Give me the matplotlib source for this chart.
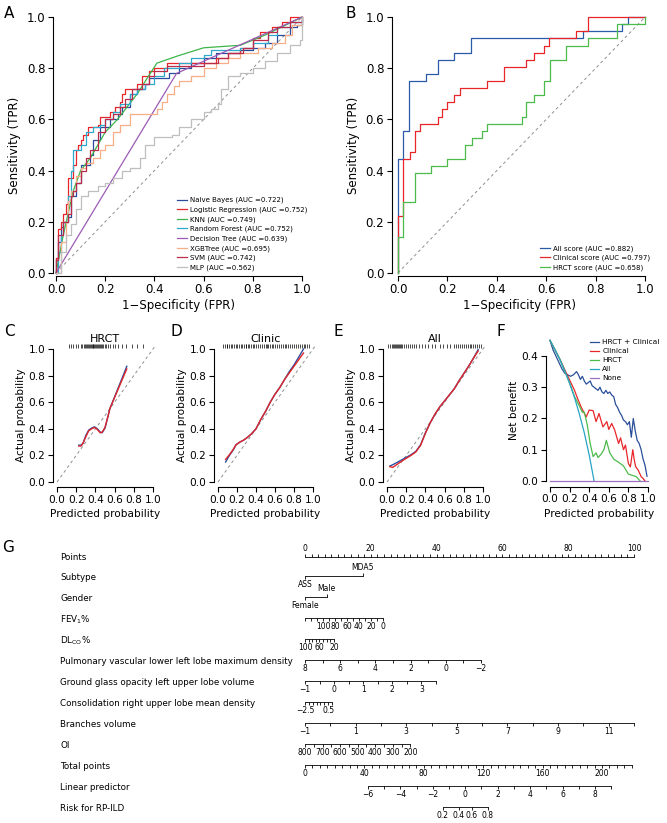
import matplotlib
matplotlib.use('Agg')
import matplotlib.pyplot as plt
import matplotlib.transforms as mtransforms
import numpy as np

plt.rcParams['font.family'] = ['DejaVu Sans']
plt.rcParams['axes.linewidth'] = 0.8

W, H = 667, 823

# ---------------- A: ROC of the machine learning models
model_names = ['Naive Bayes', 'Logistic Regression', 'KNN', 'Random Forest',
               'Decision Tree', 'XGBTree', 'SVM', 'MLP']
model_auc = [0.722, 0.752, 0.749, 0.752, 0.639, 0.695, 0.742, 0.562]

nb_fpr = [0, 0, 0.01, 0.02, 0.03, 0.05, 0.06, 0.08, 0.1, 0.14, 0.15, 0.18, 0.22, 0.25, 0.27, 0.3,
          0.33, 0.36, 0.38, 0.43, 0.46, 0.5, 0.55, 0.6, 0.65, 0.7, 0.75, 0.8, 0.85, 0.9, 0.95, 0.98, 1.0]
nb_tpr = [0, 0.06, 0.12, 0.18, 0.2, 0.22, 0.3, 0.35, 0.42, 0.46, 0.52, 0.57, 0.6, 0.62, 0.65, 0.7,
          0.72, 0.74, 0.76, 0.76, 0.78, 0.8, 0.82, 0.84, 0.86, 0.86, 0.87, 0.88, 0.9, 0.93, 0.96, 0.97, 1.0]
lr_fpr = [0, 0, 0.01, 0.02, 0.03, 0.04, 0.05, 0.07, 0.08, 0.09, 0.1, 0.11, 0.13, 0.17, 0.18, 0.22, 0.24,
          0.26, 0.27, 0.28, 0.33, 0.35, 0.38, 0.4, 0.45, 0.55, 0.65, 0.7, 0.75, 0.8, 0.83, 0.88, 0.92, 0.95, 1.0]
lr_tpr = [0, 0.06, 0.17, 0.2, 0.23, 0.27, 0.37, 0.42, 0.48, 0.5, 0.52, 0.54, 0.57, 0.58, 0.61, 0.63, 0.65,
          0.67, 0.7, 0.72, 0.74, 0.77, 0.79, 0.8, 0.82, 0.82, 0.84, 0.86, 0.88, 0.92, 0.94, 0.96, 0.98, 1.0, 1.0]
knn_fpr = [0, 0.03, 0.07, 0.1, 0.14, 0.2, 0.25, 0.33, 0.41, 0.5, 0.6, 0.75, 0.85, 1.0]
knn_tpr = [0, 0.15, 0.32, 0.4, 0.45, 0.55, 0.6, 0.7, 0.82, 0.85, 0.88, 0.89, 0.93, 1.0]
rf_fpr = [0, 0.01, 0.02, 0.03, 0.05, 0.06, 0.07, 0.1, 0.12, 0.15, 0.18, 0.2, 0.23, 0.26, 0.3, 0.33,
          0.36, 0.4, 0.44, 0.5, 0.55, 0.6, 0.63, 0.66, 0.7, 0.75, 0.8, 0.86, 0.9, 0.95, 1.0]
rf_tpr = [0, 0.08, 0.15, 0.2, 0.3, 0.4, 0.48, 0.5, 0.55, 0.57, 0.58, 0.6, 0.63, 0.66, 0.7, 0.72,
          0.74, 0.77, 0.8, 0.82, 0.84, 0.85, 0.87, 0.87, 0.87, 0.88, 0.9, 0.93, 0.96, 0.98, 0.99]
dt_fpr = [0, 0.49, 1.0]
dt_tpr = [0, 0.78, 1.0]
xgb_fpr = [0, 0.02, 0.04, 0.05, 0.06, 0.08, 0.1, 0.12, 0.15, 0.18, 0.2, 0.23, 0.26, 0.3, 0.41, 0.43,
           0.45, 0.48, 0.5, 0.55, 0.6, 0.65, 0.7, 0.75, 0.82, 0.88, 0.93, 0.96, 1.0]
xgb_tpr = [0, 0.12, 0.2, 0.28, 0.32, 0.38, 0.41, 0.43, 0.45, 0.48, 0.5, 0.55, 0.58, 0.62, 0.64, 0.67,
           0.7, 0.73, 0.75, 0.77, 0.8, 0.82, 0.84, 0.86, 0.88, 0.9, 0.93, 0.97, 1.0]
svm_fpr = [0, 0, 0.01, 0.03, 0.05, 0.06, 0.07, 0.08, 0.1, 0.12, 0.14, 0.17, 0.2, 0.23, 0.26, 0.28,
           0.31, 0.35, 0.38, 0.4, 0.45, 0.5, 0.6, 0.66, 0.7, 0.76, 0.8, 0.86, 0.9, 0.95, 1.0]
svm_tpr = [0, 0.05, 0.15, 0.2, 0.23, 0.3, 0.32, 0.35, 0.4, 0.45, 0.48, 0.55, 0.6, 0.62, 0.65, 0.68,
           0.72, 0.74, 0.77, 0.79, 0.81, 0.81, 0.82, 0.84, 0.86, 0.88, 0.91, 0.94, 0.96, 0.98, 1.0]
mlp_fpr = [0, 0.02, 0.04, 0.06, 0.08, 0.1, 0.13, 0.17, 0.2, 0.23, 0.27, 0.3, 0.34, 0.36, 0.4, 0.47,
           0.5, 0.55, 0.6, 0.63, 0.66, 0.67, 0.7, 0.75, 0.8, 0.85, 0.9, 0.95, 0.99, 1.0]
mlp_tpr = [0, 0.08, 0.15, 0.19, 0.25, 0.3, 0.32, 0.34, 0.35, 0.37, 0.4, 0.41, 0.45, 0.5, 0.53, 0.54,
           0.57, 0.6, 0.63, 0.64, 0.66, 0.72, 0.77, 0.78, 0.8, 0.83, 0.86, 0.89, 0.91, 1.0]

# ---------------- B: ROC of the scores
score_names = ['All score', 'Clinical score', 'HRCT score']
score_auc = [0.882, 0.797, 0.658]
all_fpr = [0, 0, 0.022, 0.045, 0.113, 0.16, 0.227, 0.297, 0.75, 0.905, 0.93, 1.0]
all_tpr = [0, 0.444, 0.556, 0.75, 0.778, 0.833, 0.861, 0.917, 0.944, 0.972, 1.0, 1.0]
cli_fpr = [0, 0, 0.022, 0.05, 0.07, 0.09, 0.16, 0.18, 0.2, 0.225, 0.25, 0.36, 0.43, 0.52, 0.55,
           0.59, 0.61, 0.72, 0.77, 1.0]
cli_tpr = [0, 0.222, 0.444, 0.472, 0.556, 0.583, 0.611, 0.639, 0.667, 0.694, 0.722, 0.75, 0.806,
           0.833, 0.861, 0.889, 0.917, 0.944, 1.0, 1.0]
hrct_fpr = [0, 0, 0.022, 0.068, 0.135, 0.2, 0.27, 0.3, 0.34, 0.36, 0.5, 0.52, 0.55, 0.59, 0.615,
            0.68, 0.77, 0.885, 1.0]
hrct_tpr = [0, 0.139, 0.278, 0.389, 0.417, 0.444, 0.5, 0.528, 0.556, 0.583, 0.611, 0.667, 0.694,
            0.75, 0.833, 0.889, 0.917, 0.972, 1.0]

# ---------------- C-E: calibration
cal_titles = ['HRCT', 'Clinic', 'All']
hrct_pred = [0.227, 0.25, 0.27, 0.3, 0.33, 0.36, 0.39, 0.42, 0.45, 0.47, 0.5, 0.53, 0.55, 0.6, 0.65, 0.7, 0.727]
hrct_apparent = [0.277, 0.277, 0.29, 0.35, 0.39, 0.405, 0.415, 0.4, 0.375, 0.37, 0.405, 0.49, 0.55, 0.64, 0.73, 0.82, 0.87]
hrct_corrected = [0.27, 0.27, 0.29, 0.34, 0.385, 0.4, 0.41, 0.395, 0.37, 0.375, 0.41, 0.49, 0.55, 0.635, 0.72, 0.805, 0.85]
clinic_pred = [0.08, 0.12, 0.16, 0.19, 0.23, 0.27, 0.3, 0.35, 0.4, 0.45, 0.5, 0.55, 0.6, 0.65, 0.7, 0.75, 0.8, 0.85, 0.9]
clinic_apparent = [0.15, 0.2, 0.24, 0.28, 0.3, 0.315, 0.33, 0.36, 0.4, 0.47, 0.53, 0.6, 0.66, 0.71, 0.77, 0.83, 0.88, 0.94, 1.0]
clinic_corrected = [0.17, 0.205, 0.245, 0.28, 0.3, 0.315, 0.33, 0.36, 0.4, 0.47, 0.53, 0.6, 0.66, 0.71, 0.77, 0.82, 0.87, 0.92, 0.97]
all_pred = [0.03, 0.06, 0.1, 0.15, 0.2, 0.25, 0.3, 0.35, 0.4, 0.45, 0.5, 0.55, 0.6, 0.65, 0.7, 0.75, 0.8, 0.85, 0.9, 0.95]
all_apparent = [0.12, 0.13, 0.145, 0.165, 0.185, 0.205, 0.23, 0.28, 0.37, 0.445, 0.51, 0.565, 0.61, 0.655, 0.7, 0.76, 0.815, 0.87, 0.93, 0.995]
all_corrected = [0.115, 0.11, 0.13, 0.155, 0.178, 0.2, 0.226, 0.276, 0.366, 0.445, 0.51, 0.565, 0.61, 0.655, 0.7, 0.76, 0.815, 0.87, 0.93, 0.985]
rug_hrct = [0.12, 0.15, 0.17, 0.2, 0.22, 0.25, 0.26, 0.28, 0.29, 0.3, 0.31, 0.32, 0.33, 0.34, 0.35, 0.36,
            0.37, 0.38, 0.39, 0.4, 0.41, 0.42, 0.43, 0.44, 0.45, 0.46, 0.47, 0.48, 0.5, 0.51, 0.53, 0.55,
            0.58, 0.6, 0.64, 0.68, 0.72, 0.78, 0.83, 0.9]
rug_clinic = [0.05, 0.07, 0.09, 0.1, 0.12, 0.14, 0.15, 0.17, 0.19, 0.2, 0.22, 0.24, 0.25, 0.27, 0.29, 0.3,
              0.32, 0.33, 0.35, 0.37, 0.38, 0.4, 0.42, 0.44, 0.46, 0.48, 0.5, 0.52, 0.53, 0.55, 0.57, 0.58,
              0.6, 0.62, 0.64, 0.66, 0.68, 0.7, 0.72, 0.74, 0.76, 0.78, 0.8, 0.82, 0.84, 0.86, 0.88, 0.9,
              0.92, 0.94, 0.96]
rug_all = [0.01, 0.03, 0.05, 0.06, 0.07, 0.08, 0.09, 0.1, 0.11, 0.12, 0.13, 0.15, 0.16, 0.18, 0.2, 0.22,
           0.24, 0.26, 0.28, 0.3, 0.33, 0.36, 0.4, 0.43, 0.47, 0.5, 0.55, 0.58, 0.62, 0.66, 0.7, 0.72,
           0.74, 0.76, 0.78, 0.8, 0.82, 0.84, 0.86, 0.88, 0.9, 0.92, 0.94, 0.96, 0.98]

# ---------------- F: decision curve
dca_names = ['HRCT + Clinical', 'Clinical', 'HRCT', 'All', 'None']
comb_thr = [0, 0.03, 0.06, 0.09, 0.12, 0.15, 0.18, 0.21, 0.24, 0.27, 0.29, 0.31, 0.33, 0.35, 0.37, 0.39,
            0.41, 0.43, 0.45, 0.47, 0.49, 0.51, 0.53, 0.55, 0.57, 0.59, 0.61, 0.63, 0.65, 0.67, 0.69, 0.71,
            0.73, 0.75, 0.77, 0.79, 0.81, 0.83, 0.85, 0.87, 0.89, 0.91, 0.93, 0.95, 0.97, 0.99]
comb_nb = [0.45, 0.42, 0.4, 0.38, 0.36, 0.345, 0.34, 0.335, 0.34, 0.35, 0.34, 0.325, 0.335, 0.32, 0.31, 0.315,
           0.32, 0.305, 0.3, 0.295, 0.29, 0.3, 0.285, 0.28, 0.29, 0.28, 0.285, 0.275, 0.27, 0.245, 0.235, 0.22,
           0.21, 0.195, 0.19, 0.18, 0.19, 0.14, 0.2, 0.16, 0.13, 0.12, 0.1, 0.07, 0.05, 0.015]
clin_thr = [0, 0.05, 0.1, 0.13, 0.16, 0.19, 0.22, 0.25, 0.28, 0.3, 0.32, 0.345, 0.37, 0.4, 0.44, 0.47,
            0.5, 0.54, 0.58, 0.6, 0.63, 0.66, 0.7, 0.72, 0.75, 0.77, 0.8, 0.82, 0.845, 0.86, 0.875, 0.9,
            0.93, 0.95, 0.97]
clin_nb = [0.45, 0.42, 0.39, 0.37, 0.35, 0.33, 0.31, 0.29, 0.265, 0.25, 0.235, 0.22, 0.205, 0.227, 0.225, 0.19,
           0.216, 0.173, 0.19, 0.165, 0.184, 0.163, 0.12, 0.138, 0.1, 0.115, 0.056, 0.045, 0.1, 0.067, 0.045, 0.035,
           0.014, 0.008, 0.0]
hr_thr = [0, 0.1, 0.2, 0.25, 0.3, 0.33, 0.35, 0.38, 0.41, 0.44, 0.47, 0.49, 0.52, 0.55, 0.575, 0.61,
          0.65, 0.7, 0.75, 0.8, 0.84, 0.88, 0.92]
hr_nb = [0.45, 0.39, 0.313, 0.27, 0.24, 0.22, 0.22, 0.18, 0.12, 0.078, 0.09, 0.075, 0.085, 0.1, 0.13, 0.09,
         0.07, 0.06, 0.048, 0.022, 0.018, 0.014, 0.0]
treatall_thr = [0, 0.05, 0.1, 0.15, 0.2, 0.25, 0.3, 0.35, 0.4, 0.45]
treatall_nb = [0.45, 0.421, 0.389, 0.353, 0.313, 0.267, 0.214, 0.154, 0.083, 0.0]
none_thr = [0, 1.0]
none_nb = [0, 0]

# ---------------- G: nomogram
nomo_rows = ['Points', 'Subtype', 'Gender', 'FEV$_1$%', 'DL$_{\\mathregular{CO}}$%',
             'Pulmonary vascular lower left lobe maximum density',
             'Ground glass opacity left upper lobe volume',
             'Consolidation right upper lobe mean density', 'Branches volume', 'OI',
             'Total points', 'Linear predictor', 'Risk for RP-ILD']
points_ticks = list(range(0, 101, 2))
points_labels = [0, 20, 40, 60, 80, 100]
subtype_cats = ['ASS', 'MDA5']
subtype_points = [0, 17.6]
gender_cats = ['Female', 'Male']
gender_points = [0, 6.6]
fev_ticks = list(range(130, -1, -10))
fev_labels = [100, 80, 60, 40, 20, 0]
fev_points = [0, 23.7]
dlco_ticks = list(range(100, 19, -10))
dlco_labels = [100, 60, 20]
dlco_points = [0, 8.8]
pvd_ticks = list(range(8, -3, -1))
pvd_labels = [8, 6, 4, 2, 0, -2]
pvd_points = [0, 53.5]
ggo_ticks = [-1, -0.5, 0, 0.5, 1, 1.5, 2, 2.5, 3, 3.5]
ggo_labels = [-1, 0, 1, 2, 3]
ggo_points = [0, 39.8]
cons_ticks = [-2.5, -2, -1.5, -1, -0.5, 0, 0.5, 1.0]
cons_labels = [-2.5, 0.5]
cons_points = [0, 8.2]
br_ticks = list(range(-1, 13))
br_labels = [-1, 1, 3, 5, 7, 9, 11]
br_points = [0, 100]
oi_ticks = list(range(800, 199, -50))
oi_labels = [800, 700, 600, 500, 400, 300, 200]
oi_points = [0, 32]
total_ticks = list(range(0, 221, 5))
total_labels = [0, 40, 80, 120, 160, 200]
total_points = [0, 99.3]
lp_ticks = list(range(-6, 10))
lp_labels = [-6, -4, -2, 0, 2, 4, 6, 8]
lp_total = [42.4, 206.2]
risk_ticks = [0.2, 0.4, 0.6, 0.8]

fig = plt.figure(figsize=(W / 100, H / 100), dpi=100)


def add_box(left, top, right, bottom):
    return fig.add_axes([left / W, 1 - bottom / H, (right - left) / W, (bottom - top) / H])


def r_axes(ax, xlim, ylim, xticks, yticks, fs, xfmt='{:.1f}', yfmt='{:.1f}'):
    ax.set_xlim(xlim)
    ax.set_ylim(ylim)
    ax.spines['top'].set_visible(False)
    ax.spines['right'].set_visible(False)
    ax.spines['left'].set_bounds(yticks[0], yticks[-1])
    ax.spines['bottom'].set_bounds(xticks[0], xticks[-1])
    ax.set_xticks(xticks)
    ax.set_yticks(yticks)
    ax.set_xticklabels([xfmt.format(t) for t in xticks])
    ax.set_yticklabels([yfmt.format(t) for t in yticks])
    ax.tick_params(length=3.6, width=0.8, labelsize=fs, pad=2)
    ax.patch.set_alpha(0)


ticks01 = [0, 0.2, 0.4, 0.6, 0.8, 1.0]
diag_kw = dict(ls=(0, (3, 3)), color='#8f8f8f', lw=0.7)
leg_kw = dict(frameon=False, fontsize=5, handlelength=1.4, handletextpad=0.5,
              labelspacing=0.45, borderaxespad=0.3)

# A
axA = add_box(53.3, 14.3, 304.7, 275.7)
r_axes(axA, (-0.011, 1.011), (-0.011, 1.011), ticks01, ticks01, 8.5)
axA.plot([0, 1], [0, 1], **diag_kw)
model_curves = [(nb_fpr, nb_tpr, '#2b4c9b', True), (lr_fpr, lr_tpr, '#e8262a', True),
                (knn_fpr, knn_tpr, '#3db54a', False), (rf_fpr, rf_tpr, '#2ea8cb', True),
                (dt_fpr, dt_tpr, '#9c5bb5', False), (xgb_fpr, xgb_tpr, '#f7ae86', True),
                (svm_fpr, svm_tpr, '#ba2d4a', True), (mlp_fpr, mlp_tpr, '#bebebe', True)]
for name, auc, (fx, ty, col, stepped) in zip(model_names, model_auc, model_curves):
    axA.plot(fx, ty, color=col, lw=0.9, drawstyle='steps-post' if stepped else 'default',
             label='%s (AUC =%.3f)' % (name, auc))
axA.legend(loc='lower right', bbox_to_anchor=(1.03, 0.0), **leg_kw)
axA.set_xlabel('1\u2212Specificity (FPR)', fontsize=8.5, labelpad=2)
axA.set_ylabel('Sensitivity (TPR)', fontsize=8.5, labelpad=4)

# B
axB = add_box(392.1, 14.3, 647.7, 275.7)
r_axes(axB, (-0.024, 1.011), (-0.011, 1.011), ticks01, ticks01, 8.5)
axB.plot([0, 1], [0, 1], **diag_kw)
score_curves = [(all_fpr, all_tpr, '#2b5ba8'), (cli_fpr, cli_tpr, '#e8262a'), (hrct_fpr, hrct_tpr, '#4cbb4c')]
for name, auc, (fx, ty, col) in zip(score_names, score_auc, score_curves):
    axB.plot(fx, ty, color=col, lw=0.9, drawstyle='steps-post', label='%s (AUC =%.3f)' % (name, auc))
axB.legend(loc='lower right', bbox_to_anchor=(1.03, 0.0), **leg_kw)
axB.set_xlabel('1\u2212Specificity (FPR)', fontsize=8.5, labelpad=2)
axB.set_ylabel('Sensitivity (TPR)', fontsize=8.5, labelpad=4)

# C-E
cal_boxes = [(53.2, 156.8), (214.2, 316.8), (383.2, 486.8)]
cal_sets = [(hrct_pred, hrct_apparent, hrct_corrected, rug_hrct),
            (clinic_pred, clinic_apparent, clinic_corrected, rug_clinic),
            (all_pred, all_apparent, all_corrected, rug_all)]
for (l, r), title, (px, ya, yc, rug) in zip(cal_boxes, cal_titles, cal_sets):
    ax = add_box(l, 343.7, r, 487.3)
    r_axes(ax, (-0.04, 1.04), (-0.04, 1.04), ticks01, ticks01, 7.6)
    ax.plot([0, 1.03], [0, 1.03], **diag_kw)
    ax.vlines(rug, 1.005, 1.04, color='k', lw=0.5)
    ax.plot(px, ya, color='#2b4fa0', lw=1.0)
    ax.plot(px, yc, color='#e0252a', lw=1.0)
    ax.set_title(title, fontsize=8, pad=1)
    ax.set_xlabel('Predicted probability', fontsize=7.6, labelpad=3)
    ax.set_ylabel('Actual probability', fontsize=7.6, labelpad=2)

# F
axF = add_box(546.1, 334.75, 651.9, 486.6)
r_axes(axF, (-0.04, 1.04), (-0.018, 0.468), ticks01, [0, 0.1, 0.2, 0.3, 0.4], 7.6)
dca_curves = [(comb_thr, comb_nb, '#2a4f9a'), (clin_thr, clin_nb, '#e8262a'),
              (hr_thr, hr_nb, '#4cbb4c'), (treatall_thr, treatall_nb, '#27a4c6'),
              (none_thr, none_nb, '#a070c0')]
for name, (tx, nb, col) in zip(dca_names, dca_curves):
    axF.plot(tx, nb, color=col, lw=0.9, label=name)
axF.legend(loc='upper right', bbox_to_anchor=(1.1, 0.99), frameon=False, fontsize=5.3,
           handlelength=1.2, handletextpad=0.4, labelspacing=0.38, borderaxespad=0.0)
axF.set_xlabel('Predicted probability', fontsize=7.6, labelpad=3)
axF.set_ylabel('Net benefit', fontsize=7.6, labelpad=2)

# G nomogram
axG = add_box(0, 540, 667, 823)
axG.set_xlim(-305 / 3.29, (667 - 305) / 3.29)
axG.set_ylim(12.67, -0.81)
axG.axis('off')
lab_tr = mtransforms.blended_transform_factory(axG.transAxes, axG.transData)
for i, name in enumerate(nomo_rows):
    axG.text(60 / W, i, name, transform=lab_tr, fontsize=6.3, va='center', ha='left')


def fmt(v):
    return ('%g' % v).replace('-', '\u2212')


def scale_pos(ticks, pts):
    t = np.asarray(ticks, float)
    return pts[0] + (t - t[0]) / (t[-1] - t[0]) * (pts[1] - pts[0])


def nomo_axis(row, ticks, labels, pts, above=False):
    pos = scale_pos(ticks, pts)
    y = row if above else row - 0.1
    axG.plot([pos[0], pos[-1]], [y, y], color='k', lw=0.6)
    d = -0.15 if above else 0.15
    axG.vlines(pos, y, y + d, color='k', lw=0.6)
    lab_pos = {v: p for v, p in zip(ticks, pos)}
    for v in labels:
        axG.text(lab_pos[v], y + (-0.2 if above else 0.2), fmt(v), fontsize=5.5, ha='center',
                 va='bottom' if above else 'top')


nomo_axis(0, points_ticks, points_labels, [0, 100], above=True)

# categorical rows
for row, cats, pts in [(1, subtype_cats, subtype_points), (2, gender_cats, gender_points)]:
    y = row - 0.1
    axG.plot(pts, [y, y], color='k', lw=0.6)
    axG.vlines(pts[0], y, y + 0.15, color='k', lw=0.6)
    axG.vlines(pts[1], y, y - 0.15, color='k', lw=0.6)
    axG.text(pts[0], y + 0.2, cats[0], fontsize=5.5, ha='center', va='top')
    axG.text(pts[1], y - 0.2, cats[1], fontsize=5.5, ha='center', va='bottom')

nomo_axis(3, fev_ticks, fev_labels, fev_points)
nomo_axis(4, dlco_ticks, dlco_labels, dlco_points)
nomo_axis(5, pvd_ticks, pvd_labels, pvd_points)
nomo_axis(6, ggo_ticks, ggo_labels, ggo_points)
nomo_axis(7, cons_ticks, cons_labels, cons_points)
nomo_axis(8, br_ticks, br_labels, br_points)
nomo_axis(9, oi_ticks, oi_labels, oi_points)
nomo_axis(10, total_ticks, total_labels, total_points)

# linear predictor and risk are placed on the total points scale
tp_per_pt = (total_points[1] - total_points[0]) / (total_ticks[-1] - total_ticks[0])
lp_pts = [v * tp_per_pt for v in lp_total]
nomo_axis(11, lp_ticks, lp_labels, lp_pts)
risk_lp = np.log(np.array(risk_ticks) / (1 - np.array(risk_ticks)))
lp_slope = (lp_pts[1] - lp_pts[0]) / (lp_ticks[-1] - lp_ticks[0])
risk_pos = lp_pts[0] + (risk_lp - lp_ticks[0]) * lp_slope
y = 12 - 0.1
axG.plot([risk_pos[0], risk_pos[-1]], [y, y], color='k', lw=0.6)
axG.vlines(risk_pos, y, y + 0.15, color='k', lw=0.6)
for v, p in zip(risk_ticks, risk_pos):
    axG.text(p, y + 0.2, '%.1f' % v, fontsize=5.5, ha='center', va='top')

# panel letters
for letter, (lx, ly) in zip('ABCDEFG', [(9, 14), (351, 14), (9, 331), (176, 331), (338, 331),
                                          (501, 331), (8, 547)]):
    fig.text(lx / W, 1 - ly / H, letter, fontsize=11, ha='center', va='center')

fig.savefig('out.png', dpi=100)
